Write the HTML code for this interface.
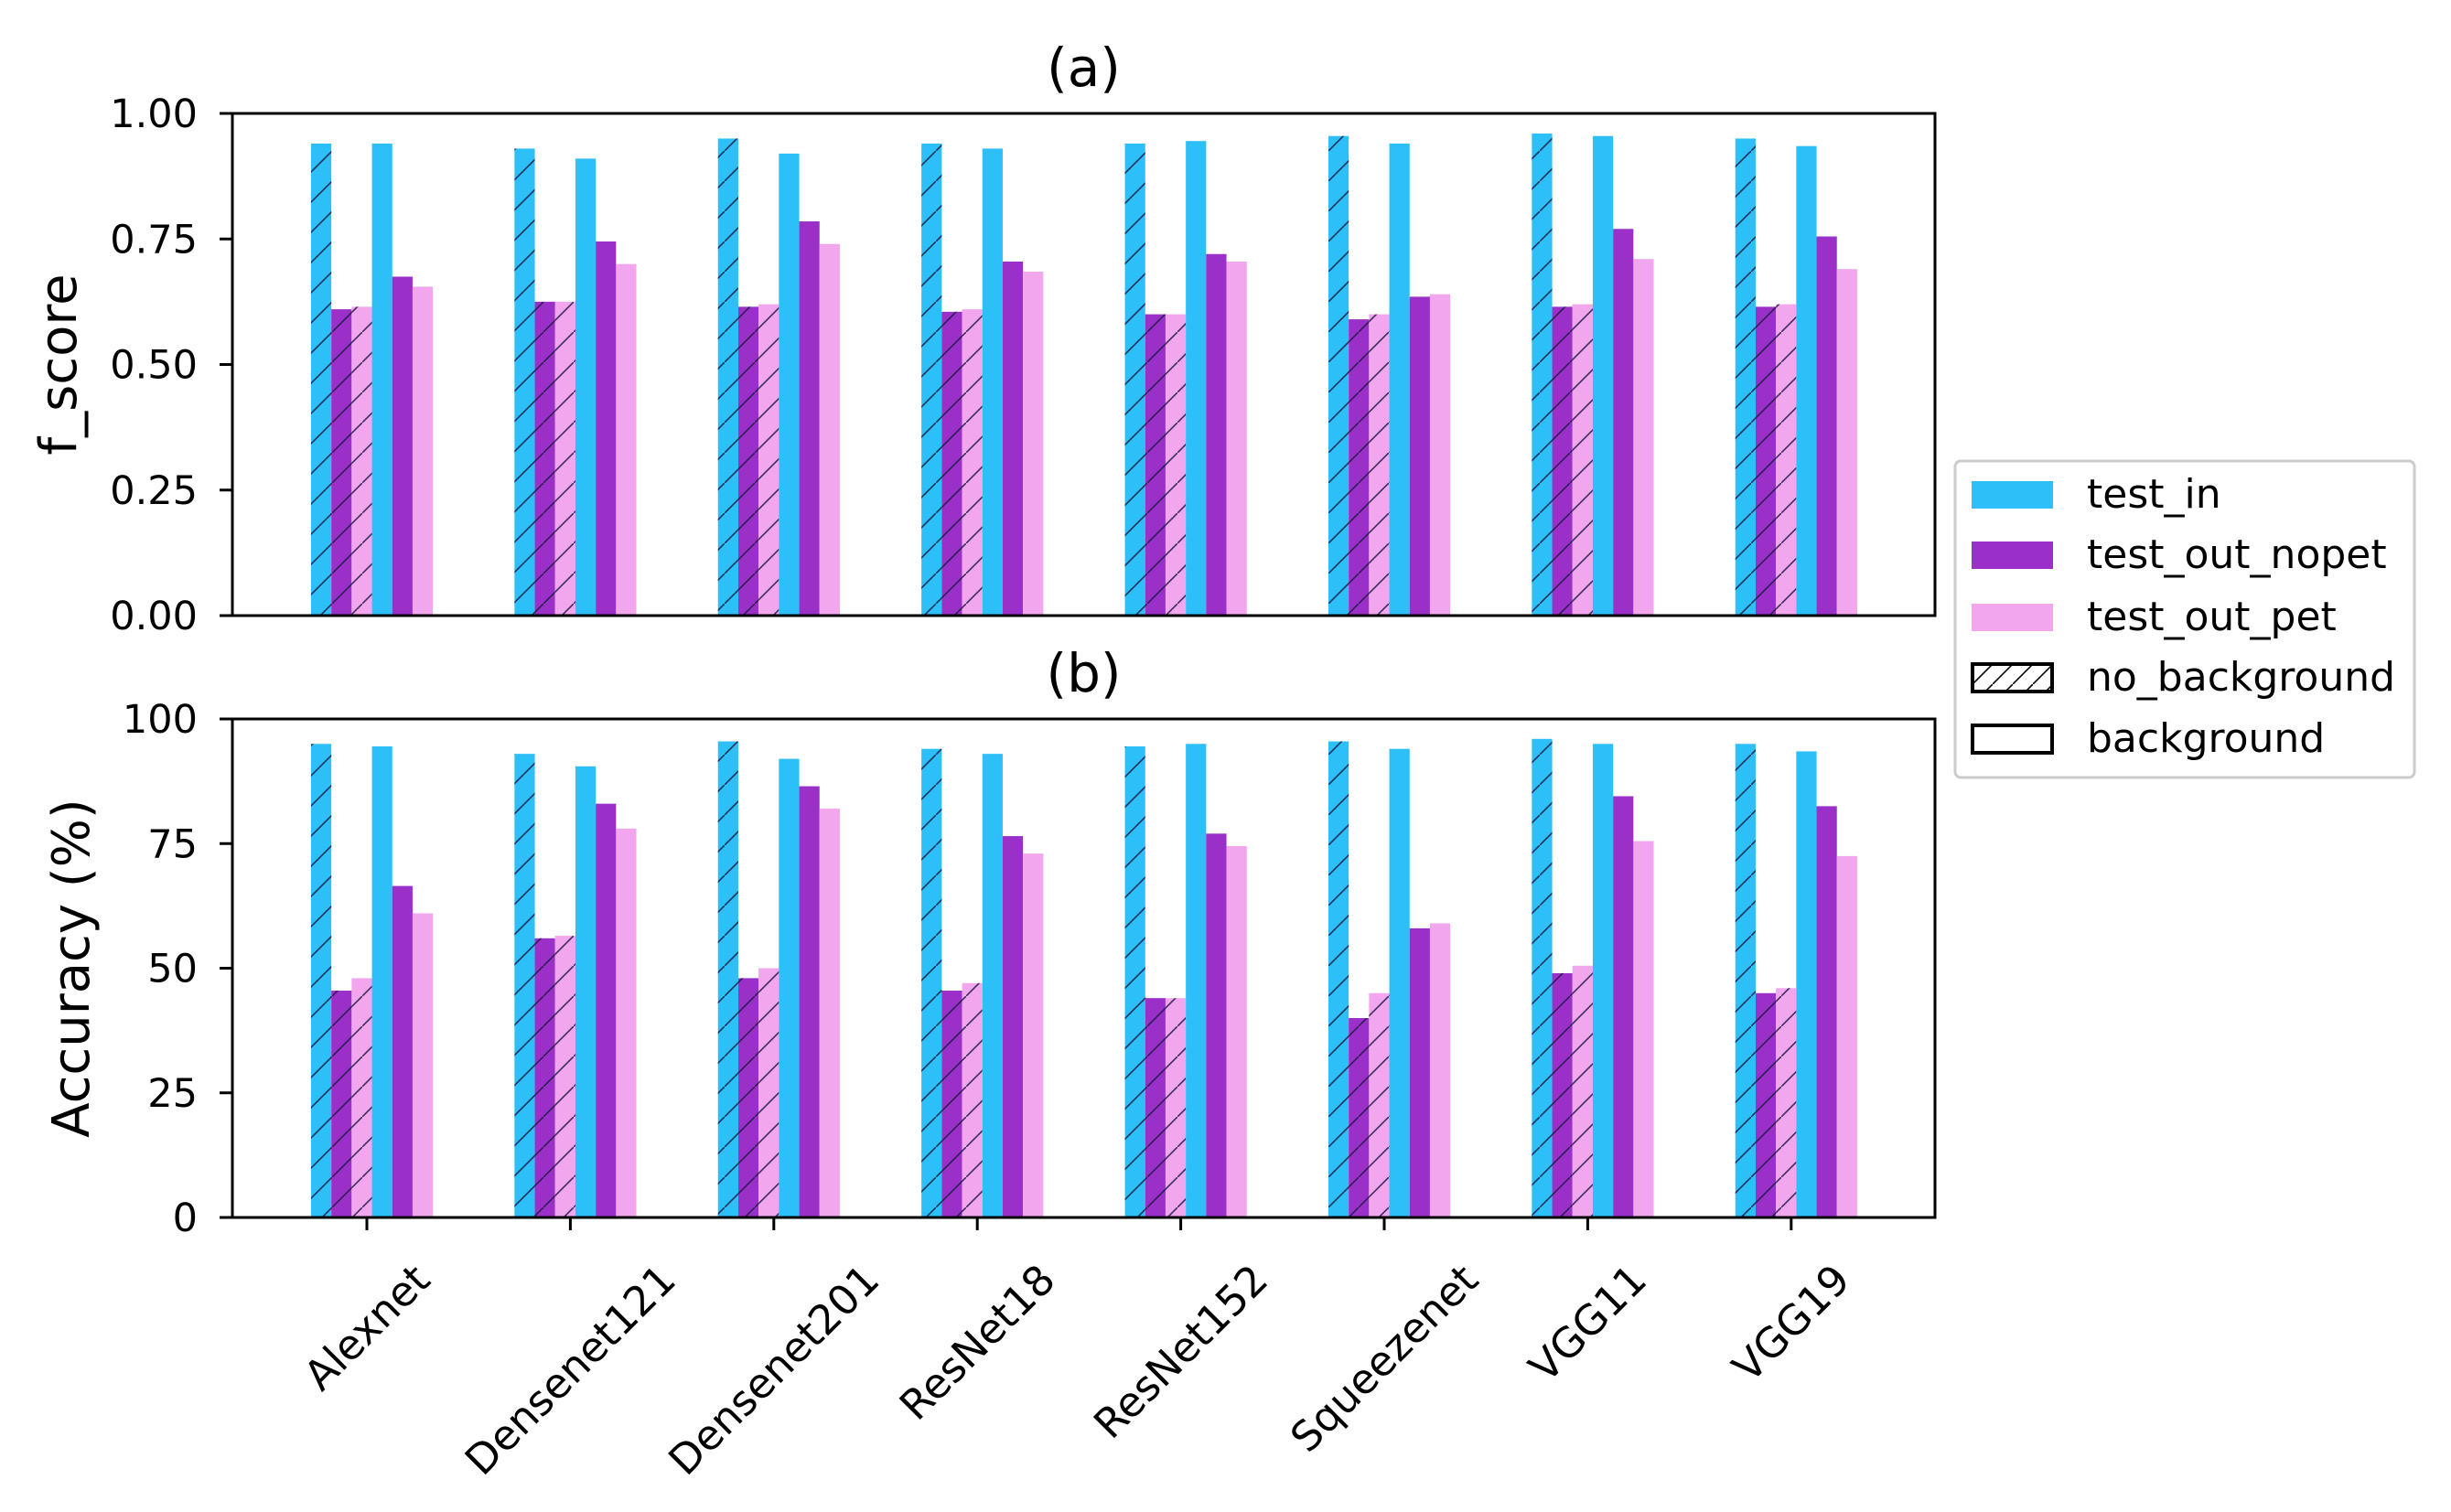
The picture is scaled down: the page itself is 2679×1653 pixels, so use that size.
<!DOCTYPE html>
<html><head><meta charset="utf-8"><style>
html,body{margin:0;padding:0;background:#fff;}
svg{display:block;font-family:"DejaVu Sans","Liberation Sans",sans-serif;}
</style></head><body>
<svg id="chart" width="2679" height="1653" viewBox="0 0 2679 1653" xmlns="http://www.w3.org/2000/svg">
<defs>
<pattern id="hatch" patternUnits="userSpaceOnUse" width="33" height="33">
<line x1="-3" y1="36" x2="36" y2="-3" stroke="#1a1a40" stroke-width="1.6" stroke-opacity="0.85"/>
</pattern>
<pattern id="hatchL" patternUnits="userSpaceOnUse" width="22" height="22">
<line x1="-2" y1="24" x2="24" y2="-2" stroke="#000" stroke-width="1.6"/>
</pattern>
</defs>
<g id="plot"></g>
<g id="legend">
<rect x="2137" y="504" width="502" height="346" rx="6" fill="#fff" stroke="#ccc" stroke-width="3"/>
<rect x="2155" y="526" width="89" height="30" fill="#2dbff8"/>
<text x="2281" y="555" font-size="44">test_in</text>
<rect x="2155" y="592" width="89" height="30" fill="#9b30c8"/>
<text x="2281" y="621" font-size="44">test_out_nopet</text>
<rect x="2155" y="660" width="89" height="30" fill="#f2a6ee"/>
<text x="2281" y="689" font-size="44">test_out_pet</text>
<rect x="2156" y="726" width="87" height="30" fill="url(#hatchL)" stroke="#000" stroke-width="4"/>
<text x="2281" y="755" font-size="44">no_background</text>
<rect x="2156" y="793" width="87" height="30" fill="#fff" stroke="#000" stroke-width="4"/>
<text x="2281" y="822" font-size="44">background</text>
</g>
</svg>
<script>
const categories = ["Alexnet","Densenet121","Densenet201","ResNet18","ResNet152","Squeezenet","VGG11","VGG19"];
const seriesNames = ["test_in (no_background)","test_out_nopet (no_background)","test_out_pet (no_background)","test_in (background)","test_out_nopet (background)","test_out_pet (background)"];
const fscoreInNoBg    = [0.94,0.93,0.95,0.94,0.94,0.955,0.96,0.95];
const fscoreNopetNoBg = [0.61,0.625,0.615,0.605,0.60,0.59,0.615,0.615];
const fscorePetNoBg   = [0.615,0.625,0.62,0.61,0.60,0.60,0.62,0.62];
const fscoreInBg      = [0.94,0.91,0.92,0.93,0.945,0.94,0.955,0.935];
const fscoreNopetBg   = [0.675,0.745,0.785,0.705,0.72,0.635,0.77,0.755];
const fscorePetBg     = [0.655,0.70,0.74,0.685,0.705,0.64,0.71,0.69];
const accInNoBg    = [95,93,95.5,94,94.5,95.5,96,95];
const accNopetNoBg = [45.5,56,48,45.5,44,40,49,45];
const accPetNoBg   = [48,56.5,50,47,44,45,50.5,46];
const accInBg      = [94.5,90.5,92,93,95,94,95,93.5];
const accNopetBg   = [66.5,83,86.5,76.5,77,58,84.5,82.5];
const accPetBg     = [61,78,82,73,74.5,59,75.5,72.5];
const fscoreTicks = ["0.00","0.25","0.50","0.75","1.00"];
const fscoreTickVals = [0,0.25,0.5,0.75,1];
const accTicks = ["0","25","50","75","100"];
const accTickVals = [0,25,50,75,100];

const NS="http://www.w3.org/2000/svg";
const plot=document.getElementById('plot');
function mk(tag,attrs,parent){const e=document.createElementNS(NS,tag);for(const k in attrs)e.setAttribute(k,attrs[k]);(parent||plot).appendChild(e);return e;}
const colors=["#2dbff8","#9b30c8","#f2a6ee"];
const L=254,R=2115;
function xCenter(i){return 401+i*222.4;}
const BW=22.2;

function panel(top,bottom,ymax,series,tickVals,tickLabels,ylabel,title,pname,showX){
  const y=v=>bottom-(v/ymax)*(bottom-top);
  const g=mk('g',{});
  
  
  series.forEach((arr,s)=>{
    arr.forEach((v,i)=>{
      const x=xCenter(i)+(s-2.75)*BW;
      const r=mk('rect',{x:x,y:y(v),width:BW,height:bottom-y(v),fill:colors[s%3]},g);
      
      
      if(s<3){const h=mk('rect',{x:x,y:y(v),width:BW,height:bottom-y(v),fill:'url(#hatch)'},g);
        
        }
    });
  });
  const frame=mk('rect',{x:L,y:top,width:R-L,height:bottom-top,fill:'none',stroke:'#000','stroke-width':3},g);
  
  
  tickVals.forEach((v,k)=>{
    const t=mk('line',{x1:L-14,x2:L,y1:y(v),y2:y(v),stroke:'#000','stroke-width':3},g);
    
    
    const tl=mk('text',{x:L-38,y:y(v)+15,'font-size':43,'text-anchor':'end'},g);
    tl.textContent=tickLabels[k];
    
    
  });
  const yl=mk('text',{x:0,y:0,'font-size':56,'text-anchor':'middle',transform:'translate('+(pname==='fscore'?83:97)+','+((top+bottom)/2)+') rotate(-90)'},g);
  yl.textContent=ylabel;
  
  
  const tt=mk('text',{x:(L+R)/2,y:top-30,'font-size':58,'text-anchor':'middle'},g);
  tt.textContent=title;
  
  
  if(showX){
    categories.forEach((c,i)=>{
      const xc=xCenter(i);
      const t=mk('line',{x1:xc,x2:xc,y1:bottom,y2:bottom+14,stroke:'#000','stroke-width':3},g);
      
      
      const tx=mk('text',{x:0,y:0,'font-size':45,'text-anchor':'middle','dominant-baseline':'central'},g);
      tx.textContent=c;
      
      
      const len=tx.getComputedTextLength();
      const half=(len*0.7071+45*0.7071)/2;
      tx.setAttribute('transform','translate('+xc+','+(1375+half)+') rotate(-45)');
    });
  }
}
panel(124,673,1,[fscoreInNoBg,fscoreNopetNoBg,fscorePetNoBg,fscoreInBg,fscoreNopetBg,fscorePetBg],fscoreTickVals,fscoreTicks,'f_score','(a)','fscore',false);
panel(786,1331,100,[accInNoBg,accNopetNoBg,accPetNoBg,accInBg,accNopetBg,accPetBg],accTickVals,accTicks,'Accuracy (%)','(b)','accuracy',true);
</script>
</body></html>
